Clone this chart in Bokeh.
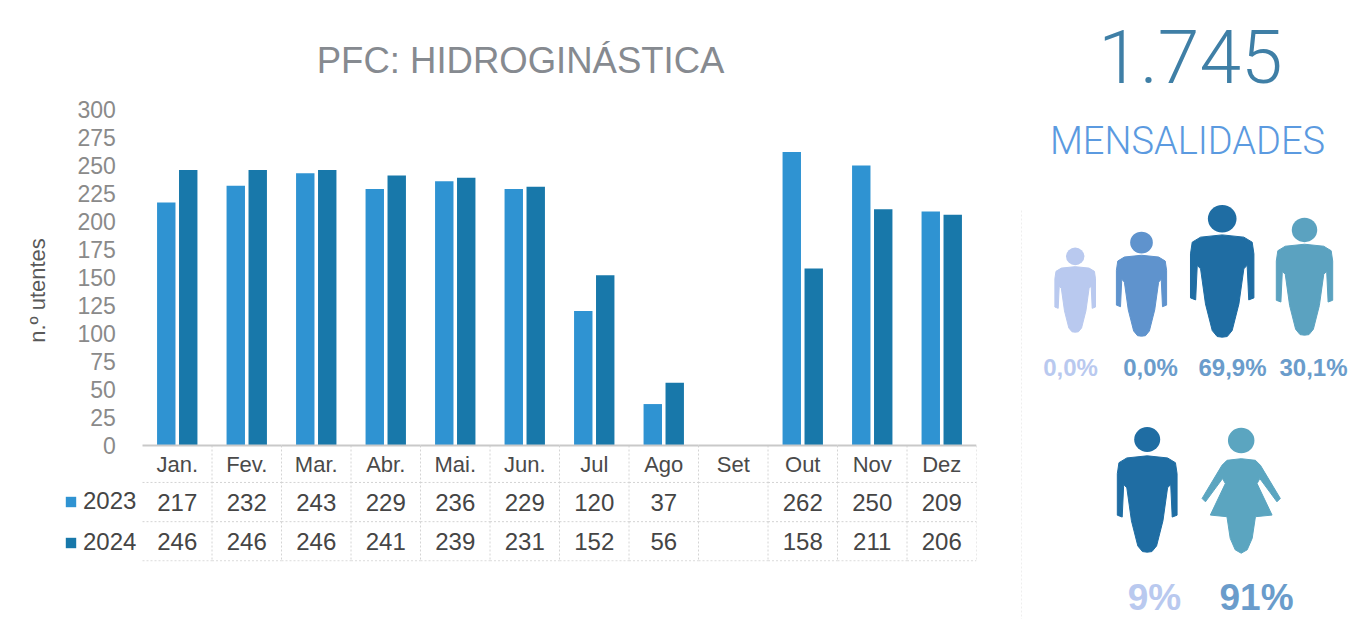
from bokeh.plotting import figure
from bokeh.layouts import row
from bokeh.embed import file_html
from bokeh.resources import INLINE
from bokeh.core.properties import value
from bokeh.models import ColumnDataSource, FixedTicker, Legend, LegendItem, Range1d, FactorRange
from bokeh.transform import dodge

months = ["Jan.", "Fev.", "Mar.", "Abr.", "Mai.", "Jun.", "Jul", "Ago", "Set", "Out", "Nov", "Dez"]
v2023 = [217, 232, 243, 229, 236, 229, 120, 37, None, 262, 250, 209]
v2024 = [246, 246, 246, 241, 239, 231, 152, 56, None, 158, 211, 206]
y_ticks = [0, 25, 50, 75, 100, 125, 150, 175, 200, 225, 250, 275, 300]
people_labels = ["0,0%", "0,0%", "69,9%", "30,1%"]
gender_labels = ["9%", "91%"]
chart_title = "PFC: HIDROGINÁSTICA"
total_label = "1.745"
total_caption = "MENSALIDADES"

C23, C24 = "#2f93d2", "#1878aa"
FONT = value("Liberation Sans")
PX = 1.12                     # pixels per unit on the value axis

# ---------- left figure: bars and their table ----------
W, H = 1018, 619
base_y = 445
top_y, bot_y = 19, 561
SP1, SP2 = " ", "  "          # empty bands left of January, for the table's row heads
p = figure(width=W, height=H, output_backend="svg", toolbar_location=None, frame_align=False,
           x_range=FactorRange(factors=[SP1, SP2] + months, range_padding=0),
           y_range=Range1d((base_y - bot_y) / PX, (base_y - top_y) / PX),
           min_border_left=3, min_border_right=W - 976, min_border_top=top_y,
           min_border_bottom=H - bot_y, background_fill_color="white", outline_line_color=None)
p.grid.visible = False

src = ColumnDataSource(dict(m=months,
                            a=[float("nan") if v is None else v for v in v2023],
                            b=[float("nan") if v is None else v for v in v2024],
                            ta=["" if v is None else str(v) for v in v2023],
                            tb=["" if v is None else str(v) for v in v2024],
                            ya=[-50.5] * 12, yb=[-86] * 12,
                            y0=[0] * 12, y1=[-103] * 12))
r23 = p.vbar(x=dodge("m", -0.158, range=p.x_range), top="a", width=0.265, source=src, fill_color=C23, line_color=None)
r24 = p.vbar(x=dodge("m", 0.158, range=p.x_range), top="b", width=0.265, source=src, fill_color=C24, line_color=None)

# table cell lines
p.segment(x0=dodge("m", 0.5, range=p.x_range), x1=dodge("m", 0.5, range=p.x_range), y0="y0", y1="y1",
          source=src, line_color="#d4d4d4", line_width=1, line_dash="2 2")
for rule in (-33, -68, -103):
    p.segment(x0=dodge("m", -0.5, range=p.x_range), x1=dodge("m", 0.5, range=p.x_range), y0=rule, y1=rule,
              source=src, line_color="#d4d4d4", line_width=1, line_dash="2 2")
# baseline
p.segment(x0=dodge("m", -0.5, range=p.x_range), x1=dodge("m", 0.5, range=p.x_range), y0="y0", y1="y0",
          source=src, line_color="#c9c9c9", line_width=2)

for col, yc in (("ta", "ya"), ("tb", "yb")):
    p.text(x="m", y=yc, text=col, source=src, text_align="center", text_baseline="middle",
           text_font=FONT, text_font_size="24px", text_color="#454545")

title_src = ColumnDataSource(dict(x=["Jun."], y=[(base_y - 60) / PX], t=[chart_title]))
p.text(x=dodge("x", -0.06, range=p.x_range), y="y", text="t", source=title_src, text_align="center",
       text_baseline="middle", text_font=FONT, text_font_size="36.5px", text_color="#868a90")

yax = p.yaxis[0]
yax.fixed_location = SP2
yax.ticker = FixedTicker(ticks=y_ticks)
yax.axis_line_color = None
yax.major_tick_line_color = None
yax.minor_tick_line_color = None
yax.major_label_text_font = "Liberation Sans"
yax.major_label_text_font_size = "23px"
yax.major_label_text_color = "#8a8a8a"
yax.major_label_standoff = -14
yax.axis_label = "n.º utentes"
yax.axis_label_text_font = "Liberation Sans"
yax.axis_label_text_font_size = "22px"
yax.axis_label_text_font_style = "normal"
yax.axis_label_text_color = "#595959"
yax.axis_label_standoff = 24

xax = p.xaxis[0]
xax.fixed_location = 0
xax.axis_line_color = None
xax.major_tick_line_color = None
xax.minor_tick_line_color = None
xax.major_label_text_font = "Liberation Sans"
xax.major_label_text_font_size = "22px"
xax.major_label_text_color = "#4a4a4a"
xax.major_label_standoff = 0

legend = Legend(items=[LegendItem(label="2023", renderers=[r23]), LegendItem(label="2024", renderers=[r24])],
                location=(61, 5), orientation="vertical", background_fill_alpha=0, border_line_color=None,
                margin=0, padding=0, spacing=13, glyph_width=13, glyph_height=13, label_standoff=6,
                label_text_font="Liberation Sans", label_text_font_size="24px", label_text_color="#454545",
                label_height=27)
p.add_layout(legend)

# ---------- right figure: pictograms ----------
q = figure(width=1365 - W, height=H, output_backend="svg", toolbar_location=None, frame_align=False,
           x_range=Range1d(W, 1365), y_range=Range1d(H, 0), min_border=0,
           background_fill_color="white", outline_line_color=None)
q.axis.visible = False
q.grid.visible = False

MAN = [(0, .229), (.163, .246), (.226, .284), (.239, .372), (.239, .704), (.20, .719), (.188, .458), (.163, .485),
       (.126, .749), (.075, .950), (.038, .995), (0, 1.0)]
WOMAN = [(0, .244), (.114, .257), (.154, .297), (.313, .562), (.286, .589), (.149, .403), (.127, .443), (.247, .695),
         (.114, .708), (.088, .881), (.048, .973), (0, 1.0)]


def person(shape, cx, top, h, color, head_y, head_r):
    left = [(-a, b) for a, b in reversed(shape[1:-1])]
    pts = shape + left
    q.patch([cx + a * h for a, b in pts], [top + b * h for a, b in pts], fill_color=color, line_color=color, line_width=1)
    q.ellipse(x=[cx], y=[top + head_y * h], width=2 * head_r * h, height=2 * head_r * h * .96,
              fill_color=color, line_color=None)


person(MAN, 1074.7, 246.7, 85, "#b9c9ef", .108, .108)
person(MAN, 1141, 230.7, 105, "#5f93cd", .108, .108)
person(MAN, 1221.7, 204, 132.7, "#1f6da3", .108, .108)
person(MAN, 1304, 216.7, 118, "#5ba2c0", .108, .108)
person(MAN, 1146.7, 426.7, 125, "#1f6da3", .098, .104)
person(WOMAN, 1240.7, 427.7, 125, "#5ba5c0", .098, .106)

q.segment(x0=[1021], x1=[1021], y0=[210], y1=[619], line_color="#eeeeee", line_width=1, line_dash="2 2")

q.text(x=[1190], y=[56], text=[total_label], text_align="center", text_baseline="middle",
       text_font=value("Roboto Light"), text_font_size="75px", text_color="#3f7fa6")
q.text(x=[1187], y=[140], text=[total_caption], text_align="center", text_baseline="middle",
       text_font=value("Roboto Light"), text_font_size="38px", text_color="#5b9ae0")
q.text(x=[1070, 1150, 1232, 1313], y=[367] * 4, text=people_labels, text_align="center", text_baseline="middle",
       text_font=FONT, text_font_size="24px", text_font_style="bold",
       text_color=["#b9c9ef", "#6a9ccb", "#6a9ccb", "#6a9ccb"])
q.text(x=[1154, 1256], y=[597, 597], text=gender_labels, text_align="center", text_baseline="middle",
       text_font=FONT, text_font_size="37px", text_font_style="bold", text_color=["#b9c9ef", "#6a9ccb"])

layout = row(p, q, spacing=0)
open("out.html", "w").write(file_html(layout, INLINE))
